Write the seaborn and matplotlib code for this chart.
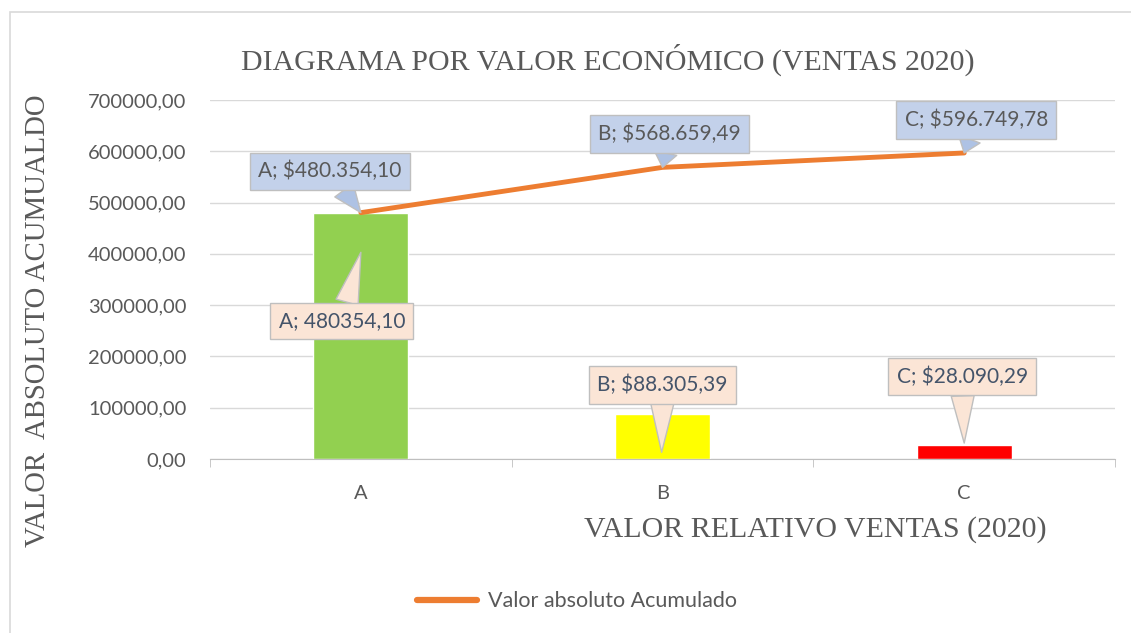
import matplotlib
matplotlib.use("Agg")
import matplotlib.pyplot as plt
import seaborn as sns
import pandas as pd
from matplotlib.ticker import FuncFormatter
from matplotlib.patches import Rectangle
from matplotlib.lines import Line2D

categorias = ["A", "B", "C"]
ventas = [480354.10, 88305.39, 28090.29]
acumulado = [480354.10, 568659.49, 596749.78]
etiquetas_barra = ["A; 480354,10", "B; $88.305,39", "C; $28.090,29"]
etiquetas_linea = ["A; $480.354,10", "B; $568.659,49", "C; $596.749,78"]
colores = ["#92D050", "#FFFF00", "#FF0000"]

df = pd.DataFrame({"cat": categorias, "ventas": ventas, "acum": acumulado})

sns.set_style("white")
plt.rcParams["font.family"] = ["Lato", "DejaVu Sans"]

fig = plt.figure(figsize=(11.31, 6.33), dpi=100)
ax = fig.add_axes([0.1857, 0.2749, 0.8002, 0.5671])

sns.barplot(data=df, x="cat", y="ventas", hue="cat", palette=colores,
            width=0.315, legend=False, ax=ax, zorder=2, saturation=1)
ax.plot(range(len(categorias)), acumulado, color="#ED7D31", lw=3.5,
        solid_capstyle="round", zorder=3)

ax.set_xlim(-0.5, 2.5)
ax.set_ylim(0, 700000)
ax.set_yticks(range(0, 700001, 100000))
ax.yaxis.set_major_formatter(FuncFormatter(lambda v, p: f"{v:.2f}".replace(".", ",")))
ax.grid(axis="y", color="#d9d9d9", lw=1, zorder=0)
ax.set_axisbelow(True)
for s in ["top", "right", "left"]:
    ax.spines[s].set_visible(False)
ax.spines["bottom"].set_color("#bfbfbf")
ax.set_xticks([-0.5, 0.5, 1.5, 2.5], minor=True)
ax.tick_params(axis="x", which="minor", length=6, color="#bfbfbf", direction="out", bottom=True)
ax.tick_params(axis="x", which="major", length=0, pad=19, labelsize=14.5, labelcolor="#595959")
ax.tick_params(axis="y", length=0, pad=17, labelsize=14.5, labelcolor="#595959")
ax.set_xlabel("")
ax.set_ylabel("")

# callouts
caja_linea = [(-0.103, 561500), (1.023, 633700), (2.04, 661000)]
caja_barra = [(-0.063, 269000), (1.0, 144300), (1.993, 160000)]
punta_barra = [(0.0, 403000), (0.997, 13000), (2.0, 31000)]

for i in range(3):
    ax.annotate(etiquetas_linea[i], xy=(i, acumulado[i]), xytext=caja_linea[i],
                ha="center", va="center", fontsize=15, color="#595959", zorder=5,
                bbox=dict(boxstyle="square,pad=0.4", fc="#c3d1ea", ec="#bfbfbf", lw=1),
                arrowprops=dict(arrowstyle="wedge,tail_width=1.1,shrink_factor=0.5",
                                fc="#aec2e4", ec="#bfbfbf", lw=1, shrinkA=0, shrinkB=0))
    ax.annotate(etiquetas_barra[i], xy=punta_barra[i], xytext=caja_barra[i],
                ha="center", va="center", fontsize=15, color="#44546a", zorder=5,
                bbox=dict(boxstyle="square,pad=0.4", fc="#fbe5d6", ec="#bfbfbf", lw=1),
                arrowprops=dict(arrowstyle="wedge,tail_width=1.1,shrink_factor=0.5",
                                fc="#fbe5d6", ec="#bfbfbf", lw=1, shrinkA=0, shrinkB=0))

fig.text(0.537, 0.905, "DIAGRAMA POR VALOR ECONÓMICO (VENTAS 2020)", ha="center", va="center",
         fontsize=21.5, family="Liberation Serif", color="#595959")
fig.text(0.034, 0.494, "VALOR  ABSOLUTO ACUMUALDO", ha="center", va="center", rotation=90,
         fontsize=20.7, family="Liberation Serif", color="#595959")
fig.text(0.721, 0.163, "VALOR RELATIVO VENTAS (2020)", ha="center", va="center",
         fontsize=21.5, family="Liberation Serif", color="#595959")

manija = Line2D([], [], color="#ED7D31", lw=4.5, solid_capstyle="round")
fig.legend(handles=[manija], labels=["Valor absoluto Acumulado"], loc="center",
           bbox_to_anchor=(0.510, 0.05), frameon=False, fontsize=15.5, labelcolor="#595959",
           handlelength=2.8, handletextpad=0.5)

fig.patches.append(Rectangle((10 / 1131, -0.1), 1.2, 0.1 + 1 - 12 / 633, transform=fig.transFigure,
                             fill=False, ec="#d9d9d9", lw=1.2))

fig.savefig("out.png", dpi=100)
